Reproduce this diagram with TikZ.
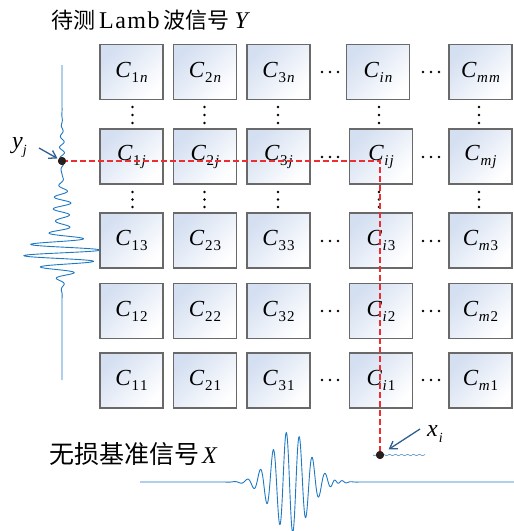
\documentclass[tikz,border=0pt]{standalone}
\usepackage{fontspec}
\setmainfont{Liberation Serif}
\newfontfamily\cjk{Noto Sans CJK SC}
\usetikzlibrary{arrows.meta}
\definecolor{wave}{RGB}{30,120,195}
\definecolor{wavelight}{RGB}{110,160,210}
\definecolor{arrowblue}{RGB}{45,95,145}
\definecolor{dashred}{RGB}{236,45,50}
\definecolor{boxblue}{RGB}{212,223,241}
\definecolor{boxline}{RGB}{105,105,105}
\definecolor{dotc}{RGB}{40,30,30}
\newcommand\Cs[1]{\textit{C}\kern0.5pt\raisebox{-5pt}{\fontsize{15}{15}\selectfont #1}}
\begin{document}
\begin{tikzpicture}[x=1pt,y=-1pt,
  declare function={g(\u,\c,\s)=exp(max(-9,-0.5*((\u-\c)/\s)*((\u-\c)/\s)));},
  cell/.style={draw=boxline, line width=1.1pt, minimum width=63pt, minimum height=55pt,
    inner sep=0pt, top color=boxblue, bottom color=white, shading angle=45,
    font=\fontsize{23}{23}\selectfont},
  wavy/.style={draw=wave, line width=0.9pt, line join=round},
  dotsty/.style={fill=black},
  reddash/.style={draw=dashred, line width=1.4pt, dash pattern=on 6pt off 3pt},
  ptr/.style={draw=arrowblue, line width=1.3pt, -{Straight Barb[length=7pt,width=9pt]}},
  sig/.style={circle, fill=dotc, inner sep=0pt, minimum size=8pt},
  lab/.style={inner sep=0pt, anchor=base west}]
\useasboundingbox (0,0) rectangle (514,531);

% signal Y (vertical)
\draw[wavy] plot[domain=65:380, samples=700, variable=\t]
  ({62 + 39*g(\t,253,13)*sin((\t-247.1)*31.3)
       + 9*g(\t,205,14)*sin((\t-200)*30)
       + 2.5*g(\t,150,15)*sin((\t-150)*32.7)}, {\t});

% signal X (horizontal)
\draw[wavy] plot[domain=140:514, samples=800, variable=\t]
  ({\t}, {482 + 51*g(\t,290.5,18)*sin((\t-289.5)*27.69)
              + 3*g(\t,336,6)*sin((\t-336)*40)});

% small local signal at x_i
\draw[draw=wavelight, line width=0.7pt] plot[domain=373:425, samples=120, variable=\t]
  ({\t}, {455 + 0.6*sin((\t-373)*60)});

% cells
\node[cell] (c-1-n) at (131.5,72) {\Cs{1\kern1pt\textit{n}}};
\node[cell] (c-2-n) at (205,72)   {\Cs{2\kern1pt\textit{n}}};
\node[cell] (c-3-n) at (278.5,72) {\Cs{3\kern1pt\textit{n}}};
\node[cell] (c-i-n) at (378,72)   {\Cs{\textit{i}\kern1pt\textit{n}}};
\node[cell] (c-m-n) at (480.5,72) {\Cs{\textit{m}\kern1pt\textit{m}}};
\foreach \r/\ry/\rl in {j/156.5/\textit{j}, 3/240.5/3, 2/311/2, 1/380.5/1}{
  \foreach \c/\cx/\cl in {1/131.5/1, 2/205/2, 3/278.5/3, i/381/\textit{i}, m/480.5/\textit{m}}{
    \node[cell] (c-\c-\r) at (\cx,\ry) {\Cs{\cl\kern1pt\rl}};
  }
}

% vertical ellipses
\foreach \x in {132.5,204.5,278,379,479}{
  \foreach \y in {107,115,123,192,199.5,207}{
    \fill[dotsty] (\x,\y) circle (1.4pt);
  }
}
% horizontal ellipses
\foreach \y in {72,157,241,311,380}{
  \foreach \x in {322,330,338,423,431,439}{
    \fill[dotsty] (\x,\y) circle (1.4pt);
  }
}

% sample points and projection lines
\node[sig] (yj) at (62,161) {};
\node[sig] (xi) at (380,455) {};
\coordinate (corner) at (380,161);
\draw[reddash] (yj.center) -- (corner) -- (xi.center);
\node[sig] at (yj) {};
\node[sig] at (xi) {};

% labels and pointers
\node[lab, font=\fontsize{24}{24}\selectfont] (ylab) at (12,148) {\textit{y}\raisebox{-6pt}{\fontsize{14}{14}\selectfont\textit{j}}};
\node[lab, font=\fontsize{24}{24}\selectfont] (xlab) at (427,436) {\textit{x}\kern1pt\raisebox{-6pt}{\fontsize{14}{14}\selectfont\textit{i}}};
\coordinate (ya) at (39,148);
\coordinate (xa) at (420,429);
\draw[ptr, shorten >=1pt] (ya) -- (yj);
\draw[ptr, shorten >=6pt] (xa) -- (xi);

% titles
\node[lab, font=\fontsize{24}{24}\selectfont] (ytitle) at (51,28)
  {{\cjk\fontsize{22}{22}\selectfont 待测}\kern4pt L\kern1.5pt a\kern1.5pt m\kern1.5pt b\kern4pt{\cjk\fontsize{22}{22}\selectfont 波信号}\kern5pt\textit{Y}};
\node[lab, font=\fontsize{24}{24}\selectfont] (xtitle) at (49,463)
  {{\cjk\fontsize{25}{25}\selectfont 无损基准信号}\kern3pt\textit{X}};
\end{tikzpicture}
\end{document}
